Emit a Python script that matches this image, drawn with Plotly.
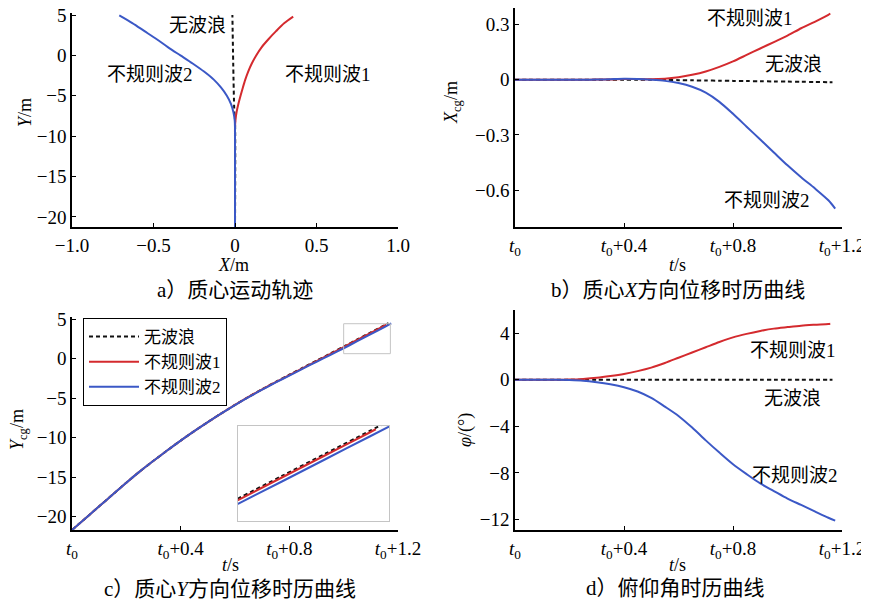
import plotly.graph_objects as go

# ---------------- data ----------------
# time (s after t0), one array per series
t_nowave = [0, 0.05, 0.1, 0.15, 0.2, 0.25, 0.3, 0.35, 0.4, 0.45, 0.5, 0.55, 0.6,
            0.65, 0.7, 0.75, 0.8, 0.85, 0.9, 0.95, 1.0, 1.05, 1.1, 1.15, 1.165]
t_wave1 = [0, 0.05, 0.1, 0.15, 0.2, 0.25, 0.3, 0.35, 0.4, 0.45, 0.5, 0.55, 0.6,
           0.65, 0.7, 0.75, 0.8, 0.85, 0.9, 0.95, 1.0, 1.05, 1.1, 1.15, 1.157]
t_wave2 = [0, 0.05, 0.1, 0.15, 0.2, 0.25, 0.3, 0.35, 0.4, 0.45, 0.5, 0.55, 0.6,
           0.65, 0.7, 0.75, 0.8, 0.85, 0.9, 0.95, 1.0, 1.05, 1.1, 1.15, 1.175]

# X_cg (m) vs time
x_nowave = [0, 0, 0, 0, 0, 0, 0, 0, 0, 0, 0, -0.001, -0.002,
            -0.003, -0.004, -0.005, -0.006, -0.007, -0.008, -0.009, -0.010, -0.011, -0.012, -0.013, -0.013]
x_wave1 = [0, 0, 0, 0, 0, 0, 0.001, 0.002, 0.004, 0.004, 0.003, 0.006, 0.014,
           0.027, 0.045, 0.07, 0.10, 0.135, 0.17, 0.205, 0.24, 0.28, 0.315, 0.353, 0.36]
x_wave2 = [0, 0, 0, 0, 0, 0, 0.001, 0.003, 0.005, 0.004, 0.0, -0.006, -0.018,
           -0.038, -0.07, -0.12, -0.185, -0.255, -0.325, -0.395, -0.465, -0.53, -0.59, -0.655, -0.70]

# Y_cg (m) vs time
y_nowave = [-21.7, -20.2, -18.7, -17.2, -15.7, -14.27, -12.93, -11.63, -10.37, -9.17, -8.02, -6.91, -5.84,
            -4.82, -3.85, -2.92, -2.02, -1.13, -0.24, 0.65, 1.55, 2.45, 3.35, 4.25, 4.52]
y_wave1 = [-21.7, -20.2, -18.7, -17.2, -15.7, -14.27, -12.93, -11.63, -10.37, -9.17, -8.02, -6.91, -5.85,
           -4.83, -3.87, -2.95, -2.06, -1.18, -0.3, 0.59, 1.49, 2.39, 3.29, 4.19, 4.32]
y_wave2 = [-21.7, -20.2, -18.7, -17.2, -15.7, -14.27, -12.93, -11.63, -10.37, -9.17, -8.02, -6.92, -5.86,
           -4.86, -3.91, -3.0, -2.12, -1.25, -0.38, 0.47, 1.34, 2.23, 3.13, 4.03, 4.48]

# pitch angle (deg) vs time
phi_nowave = [0] * 25
phi_wave1 = [0, 0, 0, 0, 0.02, 0.08, 0.18, 0.33, 0.51, 0.75, 1.05, 1.45, 1.9,
             2.35, 2.8, 3.25, 3.65, 3.95, 4.2, 4.4, 4.53, 4.65, 4.73, 4.8, 4.82]
phi_wave2 = [0, 0, 0, 0, -0.02, -0.07, -0.2, -0.38, -0.63, -1.0, -1.55, -2.3, -3.1,
             -4.1, -5.2, -6.25, -7.25, -8.1, -8.9, -9.55, -10.2, -10.75, -11.3, -11.85, -12.1]

# trajectory of the centre of mass (panel a), X (m) against Y (m)
traj_y_nowave = [-21.3, -8, -7, 5]
traj_x_nowave = [0, 0, -0.004, -0.016]
traj_y_wave1 = [-21.3, -10, -9, -8, -7, -6, -5, -4, -3, -2, -1, 0, 1, 2, 3, 4, 4.8]
traj_x_wave1 = [0, 0, 0, 0.003, 0.01, 0.021, 0.034, 0.048, 0.063, 0.081, 0.103, 0.13, 0.163,
                0.205, 0.252, 0.303, 0.357]
traj_y_wave2 = [-21.3, -10, -9, -8, -7, -6, -5, -4, -3, -2, -1, 0, 1, 2, 3, 4, 4.95]
traj_x_wave2 = [0, 0, 0, -0.002, -0.01, -0.025, -0.05, -0.085, -0.13, -0.19, -0.26, -0.335, -0.41,
                -0.48, -0.555, -0.63, -0.71]

series_names = ["无波浪", "不规则波1", "不规则波2"]

t_ticks = [0, 0.4, 0.8, 1.2]
t_ticktext = ["<i>t</i><sub>0</sub>", "<i>t</i><sub>0</sub>+0.4",
              "<i>t</i><sub>0</sub>+0.8", "<i>t</i><sub>0</sub>+1.2"]
a_xticks = [-1.0, -0.5, 0, 0.5, 1.0]
a_xticktext = ["−1.0", "−0.5", "0", "0.5", "1.0"]
y_ticks = [5, 0, -5, -10, -15, -20]
y_ticktext = ["5", "0", "−5", "−10", "−15", "−20"]
b_yticks = [0.3, 0, -0.3, -0.6]
b_yticktext = ["0.3", "0", "−0.3", "−0.6"]
d_yticks = [4, 0, -4, -8, -12]
d_yticktext = ["4", "0", "−4", "−8", "−12"]

captions = ["a）质心运动轨迹", "b）质心<i>X</i>方向位移时历曲线",
            "c）质心<i>Y</i>方向位移时历曲线", "d）俯仰角时历曲线"]

# ---------------- style ----------------
OFF = 8                    # the page body margin shifts the figure by 8 px
W, H = 869 - OFF, 602 - OFF
FONT = "Liberation Serif, Noto Sans CJK SC, serif"
BLACK = "#111111"
RED = "#d42a2e"
BLUE = "#3b58c6"
styles = [dict(color=BLACK, width=2, dash="4px,3px"),
          dict(color=RED, width=2),
          dict(color=BLUE, width=2)]


def clamp(v):
    return min(1.0, max(0.0, v))


def px_x(a, b):
    return [clamp((a - OFF) / W), clamp((b - OFF) / W)]


def px_y(top, bottom):
    return [clamp(1 - (bottom - OFF) / H), clamp(1 - (top - OFF) / H)]


fig = go.Figure()

ts = [t_nowave, t_wave1, t_wave2]
xs = [x_nowave, x_wave1, x_wave2]
ys = [y_nowave, y_wave1, y_wave2]
phis = [phi_nowave, phi_wave1, phi_wave2]
trx = [traj_x_nowave, traj_x_wave1, traj_x_wave2]
trY = [traj_y_nowave, traj_y_wave1, traj_y_wave2]

for i in range(3):
    sp = dict(styles[i], shape="spline", smoothing=0.8)
    # a) trajectory
    fig.add_trace(go.Scatter(x=trx[i], y=trY[i], mode="lines", line=sp,
                             xaxis="x", yaxis="y", showlegend=False, name=series_names[i]))
    # b) X_cg
    fig.add_trace(go.Scatter(x=ts[i], y=xs[i], mode="lines", line=sp,
                             xaxis="x2", yaxis="y2", showlegend=False, name=series_names[i]))
    # c) Y_cg
    fig.add_trace(go.Scatter(x=ts[i], y=ys[i], mode="lines", line=sp,
                             xaxis="x3", yaxis="y3", showlegend=True, name=series_names[i]))
    # d) pitch
    fig.add_trace(go.Scatter(x=ts[i], y=phis[i], mode="lines", line=sp,
                             xaxis="x4", yaxis="y4", showlegend=False, name=series_names[i]))
    # c) inset
    fig.add_trace(go.Scatter(x=ts[i], y=ys[i], mode="lines", line=sp,
                             xaxis="x5", yaxis="y5", showlegend=False, name=series_names[i]))

axis_common = dict(showline=True, linecolor="black", linewidth=1.5, mirror=False,
                   ticks="inside", ticklen=4, tickwidth=1, tickcolor="black",
                   showgrid=False, zeroline=False, ticklabeloverflow="allow",
                   tickfont=dict(family=FONT, size=19, color="black"))

inset_x = [1.0, 1.172]
inset_y = [0.65, 4.45]

fig.update_layout(
    width=W, height=H,
    margin=dict(l=0, r=0, t=0, b=0, autoexpand=False),
    paper_bgcolor="white", plot_bgcolor="white",
    font=dict(family=FONT, size=18, color="black"),
    xaxis=dict(domain=px_x(72, 398), range=[-1, 1], tickvals=a_xticks, ticktext=a_xticktext,
               anchor="y", **axis_common),
    yaxis=dict(domain=px_y(13, 227), range=[-21.25, 5.25], tickvals=y_ticks, ticktext=y_ticktext,
               anchor="x", **axis_common),
    xaxis2=dict(domain=px_x(515, 842), range=[0, 1.2], tickvals=t_ticks, ticktext=t_ticktext,
                anchor="y2", **axis_common),
    yaxis2=dict(domain=px_y(8, 227), range=[-0.8, 0.39], tickvals=b_yticks, ticktext=b_yticktext,
                anchor="x2", **axis_common),
    xaxis3=dict(domain=px_x(72, 398), range=[0, 1.2], tickvals=t_ticks, ticktext=t_ticktext,
                anchor="y3", **axis_common),
    yaxis3=dict(domain=px_y(317, 530), range=[-21.7, 5.3], tickvals=y_ticks, ticktext=y_ticktext,
                anchor="x3", **axis_common),
    xaxis4=dict(domain=px_x(515, 842), range=[0, 1.2], tickvals=t_ticks, ticktext=t_ticktext,
                anchor="y4", **axis_common),
    yaxis4=dict(domain=px_y(310, 530), range=[-12.9, 6.0], tickvals=d_yticks, ticktext=d_yticktext,
                anchor="x4", **axis_common),
    xaxis5=dict(domain=px_x(238, 389), range=inset_x, anchor="y5", showline=True, mirror=True,
                linecolor="#c4c4c4", linewidth=1, showticklabels=False, ticks="",
                showgrid=False, zeroline=False),
    yaxis5=dict(domain=px_y(426, 521), range=inset_y, anchor="x5", showline=True, mirror=True,
                linecolor="#c4c4c4", linewidth=1, showticklabels=False, ticks="",
                showgrid=False, zeroline=False),
    legend=dict(x=(83 - OFF) / W, y=1 - (318 - OFF) / H, xanchor="left", yanchor="top",
                bgcolor="white", bordercolor="black", borderwidth=1,
                font=dict(family=FONT, size=17, color="black"),
                tracegroupgap=0, itemwidth=50),
)

# small box in panel c marking the zoomed area
fig.add_shape(type="rect", xref="x3", yref="y3", x0=inset_x[0], x1=inset_x[1],
              y0=inset_y[0], y1=inset_y[1], line=dict(color="#c4c4c4", width=1))


def ann(text, x, y, size=19, angle=0):
    fig.add_annotation(text=text, x=(x - OFF) / W, y=1 - (y - OFF) / H, xref="paper", yref="paper",
                       showarrow=False, textangle=angle, xanchor="center", yanchor="middle",
                       font=dict(family=FONT, size=size, color="black"))


# in-plot labels
ann("无波浪", 197, 26)
ann("不规则波2", 150, 74)
ann("不规则波1", 328, 74)
ann("不规则波1", 750, 19)
ann("无波浪", 793, 65)
ann("不规则波2", 767, 200)
ann("不规则波1", 793, 350)
ann("无波浪", 792, 399)
ann("不规则波2", 795, 475)

# axis titles
ann("<i>Y</i>/m", 25, 113, size=18, angle=-90)
ann("<i>X</i>/m", 233, 265, size=18)
ann("<i>X</i><sub>cg</sub>/m", 452, 103, size=18, angle=-90)
ann("<i>t</i>/s", 677, 265, size=18)
ann("<i>Y</i><sub>cg</sub>/m", 18, 430, size=18, angle=-90)
ann("<i>t</i>/s", 230, 565, size=18)
ann("<i>φ</i>/(°)", 465, 430, size=18, angle=-90)
ann("<i>t</i>/s", 677, 565, size=18)

# captions
ann(captions[0], 235, 290, size=21)
ann(captions[1], 678, 290, size=21)
ann(captions[2], 230, 589, size=21)
ann(captions[3], 675, 588, size=21)

fig.write_html("out.html")
